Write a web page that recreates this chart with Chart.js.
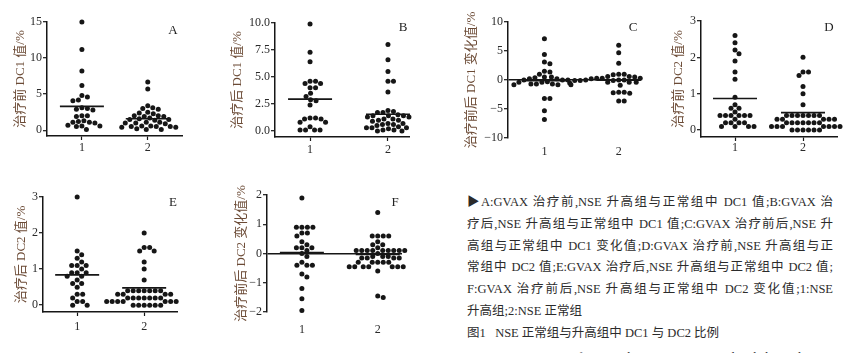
<!DOCTYPE html>
<html>
<head>
<meta charset="utf-8">
<script src="https://cdn.jsdelivr.net/npm/chart.js@4.4.1/dist/chart.umd.min.js"></script>
<style>
html, body { margin: 0; padding: 0; background: #fff; }
body { width: 848px; height: 353px; overflow: hidden; position: relative; }
canvas { position: absolute; }
#cap { position: absolute; left: 467px; top: 192px; width: 366px; font: 12.5px "Liberation Serif", "Noto Sans CJK SC", serif; color: #2b2b2b; line-height: 21.8px; }
#cap div { white-space: nowrap; }
#cap .j { white-space: normal; text-align: justify; text-align-last: justify; }
#cap .cut { margin-top: 2px; }
</style>
</head>
<body>
<div id="cap">
  <div class="j">&#9654;A:GVAX 治疗前,NSE 升高组与正常组中 DC1 值;B:GVAX 治</div>
  <div class="j">疗后,NSE 升高组与正常组中 DC1 值;C:GVAX 治疗前后,NSE 升</div>
  <div class="j">高组与正常组中 DC1 变化值;D:GVAX 治疗前,NSE 升高组与正</div>
  <div class="j">常组中 DC2 值;E:GVAX 治疗后,NSE 升高组与正常组中 DC2 值;</div>
  <div class="j">F:GVAX 治疗前后,NSE 升高组与正常组中 DC2 变化值;1:NSE</div>
  <div>升高组;2:NSE 正常组</div>
  <div>图1&nbsp;&nbsp;&nbsp;NSE 正常组与升高组中 DC1 与 DC2 比例</div>
  <div class="cut">Figure 1&nbsp;&nbsp;Proportion of DC1 and DC2 in NSE normal and elevated groups</div>
</div>
<script>
// Categories & tick labels //
var groups = ['1', '2'];
var ticksA = [0, 5, 10, 15];
var ticksB = [0, 2.5, 5, 7.5, 10];
var ticksC = [-10, -5, 0, 5, 10];
var ticksD = [0, 1, 2, 3];
var ticksE = [0, 1, 2, 3];
var ticksF = [-2, -1, 0, 1, 2];

// Values (group 1 = NSE high, group 2 = NSE normal) //
var a1 = [15.0, 11.2, 8.2, 6.2, 4.8, 4.6, 4.2, 4.1, 3.1, 3.0, 2.9, 2.8, 2.0, 2.0, 1.9, 1.3, 1.2, 1.1, 1.1, 1.0, 0.7, 0.6, 0.6, 0.5, 0.1];
var a2 = [6.7, 5.7, 3.4, 3.1, 3.0, 2.9, 2.5, 2.4, 2.3, 2.0, 2.0, 1.9, 1.9, 1.7, 1.6, 1.5, 1.5, 1.4, 1.1, 1.1, 1.0, 1.0, 0.9, 0.6, 0.6, 0.5, 0.5, 0.5, 0.4, 0.4, 0.2, 0.1, 0.1];
var aMean = [3.3, 1.6];

var b1 = [9.9, 7.3, 6.4, 4.6, 4.6, 4.4, 4.4, 4.0, 4.0, 3.5, 3.2, 2.9, 2.8, 2.4, 1.2, 1.2, 1.1, 1.1, 0.8, 0.8, 0.4, 0.1, 0.1, 0.1, 0.1];
var b2 = [8.0, 6.6, 5.5, 4.6, 4.6, 3.6, 1.9, 1.8, 1.7, 1.7, 1.5, 1.4, 1.4, 1.4, 1.3, 1.3, 1.1, 1.1, 1.0, 1.0, 0.9, 0.7, 0.7, 0.6, 0.6, 0.5, 0.4, 0.3, 0.3, 0.3, 0.2, 0.1, 0.1, 0.0, 0.0];
var bMean = [2.95, 1.55];

var c1 = [7.1, 4.4, 3.1, 2.8, 1.5, 1.4, 1.0, 0.5, 0.5, 0.4, 0.2, 0.2, 0.0, 0.0, 0.0, -0.3, -0.4, -0.4, -0.7, -0.7, -0.7, -0.8, -0.8, -0.8, -3.2, -3.2, -5.3, -6.8];
var c2 = [6.0, 4.7, 2.9, 1.0, 1.0, 0.9, 0.6, 0.6, 0.5, 0.3, 0.3, 0.3, 0.2, 0.2, 0.2, 0.0, 0.0, 0.0, -0.1, -0.1, -0.1, -0.1, -0.1, -0.1, -0.4, -0.4, -0.4, -0.5, -0.5, -0.9, -2.1, -2.1, -2.2, -2.3, -3.6, -3.6];
var cMean = [-0.1, -0.05];

var d1 = [2.6, 2.4, 2.2, 2.1, 1.9, 1.6, 1.4, 0.9, 0.7, 0.6, 0.6, 0.5, 0.4, 0.4, 0.4, 0.4, 0.4, 0.4, 0.3, 0.2, 0.2, 0.2, 0.2, 0.1, 0.1, 0.1, 0.1];
var d2 = [2.0, 1.6, 1.6, 1.5, 1.2, 1.0, 0.7, 0.4, 0.4, 0.4, 0.4, 0.4, 0.4, 0.4, 0.3, 0.3, 0.3, 0.3, 0.3, 0.2, 0.2, 0.2, 0.2, 0.2, 0.2, 0.2, 0.1, 0.1, 0.1, 0.1, 0.1, 0.1, 0.1, 0.0, 0.0, 0.0, 0.0, 0.0, 0.0];
var dMean = [0.87, 0.48];

var e1 = [3.0, 1.5, 1.4, 1.3, 1.2, 1.1, 1.1, 1.1, 1.0, 0.9, 0.9, 0.9, 0.8, 0.8, 0.7, 0.6, 0.6, 0.5, 0.3, 0.3, 0.2, 0.1, 0.1, 0.0, 0.0];
var e2 = [2.0, 1.6, 1.6, 1.5, 1.5, 1.2, 1.0, 0.7, 0.4, 0.4, 0.4, 0.4, 0.4, 0.4, 0.4, 0.3, 0.3, 0.3, 0.3, 0.2, 0.2, 0.2, 0.2, 0.2, 0.2, 0.2, 0.1, 0.1, 0.1, 0.1, 0.1, 0.1, 0.1, 0.1, 0.0, 0.0, 0.0, 0.0, 0.0, 0.0];
var eMean = [0.84, 0.48];

var f1 = [1.9, 0.9, 0.9, 0.9, 0.9, 0.7, 0.7, 0.6, 0.4, 0.3, 0.2, 0.2, 0.2, 0.1, 0.0, -0.1, -0.3, -0.4, -0.4, -0.4, -0.7, -0.8, -1.2, -1.55, -1.95];
var f2 = [1.4, 0.6, 0.6, 0.6, 0.6, 0.4, 0.3, 0.3, 0.2, 0.1, 0.1, 0.1, 0.1, 0.1, 0.1, 0.1, 0.1, 0.1, 0.0, -0.1, -0.1, -0.1, -0.15, -0.15, -0.15, -0.15, -0.3, -0.3, -0.3, -0.3, -0.3, -0.45, -0.45, -0.45, -0.45, -0.45, -0.45, -0.45, -0.6, -1.45, -1.5];
var fMean = [0.03, -0.03];

// Layout of each small panel (canvas box + plot area, page pixels) //
var panels = [
  {id: 'A', box: [0, 0, 190, 165], area: [47, 22, 182, 136], xr: [0.47, 2.52], yr: [-0.8, 15], ticks: ticksA, dec: 0, title: '治疗前 DC1 值/%', tpad: 13, xpad: 1, g1: a1, g2: a2, mean: aMean, zero: false, letter: [9, 9]},
  {id: 'B', box: [215, 0, 200, 165], area: [275, 23, 409, 137], xr: [0.55, 2.27], yr: [-0.56, 10], ticks: ticksB, dec: 1, title: '治疗后 DC1 值/%', tpad: 15, xpad: 2, g1: b1, g2: b2, mean: bMean, zero: false, letter: [6, 5]},
  {id: 'C', box: [430, 0, 218, 165], area: [508, 22, 641, 138], xr: [0.51, 2.3], yr: [-10, 10], ticks: ticksC, dec: 0, title: '治疗前后 DC1 变化值/%', tpad: 34, xpad: 3, g1: c1, g2: c2, mean: cMean, zero: true, letter: [8, 6]},
  {id: 'D', box: [648, 0, 200, 165], area: [701, 21, 837, 137], xr: [0.5, 2.5], yr: [-0.19, 3], ticks: ticksD, dec: 0, title: '治疗前 DC2 值/%', tpad: 23, xpad: 0, g1: d1, g2: d2, mean: dMean, zero: false, letter: [8, 7]},
  {id: 'E', box: [0, 178, 185, 165], area: [43, 197, 177, 312], xr: [0.49, 2.49], yr: [-0.19, 3], ticks: ticksE, dec: 0, title: '治疗后 DC2 值/%', tpad: 14, xpad: 4, g1: e1, g2: e2, mean: eMean, zero: false, letter: [4, 6]},
  {id: 'F', box: [200, 178, 210, 165], area: [267, 195, 402, 312], xr: [0.54, 2.32], yr: [-2, 2], ticks: ticksF, dec: 0, title: '治疗前后 DC2 变化值/%', tpad: 34, xpad: 7, g1: f1, g2: f2, mean: fMean, zero: true, letter: [7, 8]}
];

var INK = '#161616';
var SERIF = '"Liberation Serif", "Noto Sans CJK SC", serif';
var XH = 22;
var GAP = 5.4;

// Panel letter in the top-right corner //
var letterPlugin = {
  id: 'letter',
  afterDraw: function(chart, args, opts) {
    var ctx = chart.ctx, ca = chart.chartArea;
    ctx.save();
    ctx.font = '13px ' + SERIF;
    ctx.fillStyle = '#222';
    ctx.textAlign = 'center';
    ctx.textBaseline = 'middle';
    ctx.fillText(opts.text, ca.right - opts.dx, ca.top + opts.dy);
    ctx.restore();
  }
};

// Spread dots sideways so they don't overlap (scatter dot plot) //
function swarm(chart, vals, cat) {
  var xs = chart.scales.x, ys = chart.scales.y;
  var cx = xs.getPixelForValue(cat);
  var placed = [];
  vals.slice().sort(function(a, b) { return b - a; }).forEach(function(v) {
    var py = ys.getPixelForValue(v);
    for (var k = 0; k < 400; k++) {
      var px = cx + Math.ceil(k / 2) * 0.5 * (k % 2 ? 1 : -1);
      var hit = placed.some(function(q) { return Math.hypot(q.px - px, q.py - py) < GAP; });
      if (!hit) { placed.push({px: px, py: py, v: v}); break; }
    }
  });
  return placed.map(function(q) { return {x: xs.getValueForPixel(q.px), y: q.v}; });
}

function meanLine(chart, cat, v) {
  var xs = chart.scales.x, cx = xs.getPixelForValue(cat);
  return [{x: xs.getValueForPixel(cx - 22), y: v}, {x: xs.getValueForPixel(cx + 22), y: v}];
}

panels.forEach(function(p) {
  var cv = document.createElement('canvas');
  cv.width = p.box[2];
  cv.height = p.box[3];
  cv.style.left = p.box[0] + 'px';
  cv.style.top = p.box[1] + 'px';
  document.body.appendChild(cv);

  var yW = p.area[0] - p.box[0];
  var pad = {
    left: 0,
    top: p.area[1] - p.box[1],
    right: p.box[0] + p.box[2] - p.area[2],
    bottom: p.box[1] + p.box[3] - p.area[3] - XH
  };
  var dot = {pointRadius: 2.5, pointBackgroundColor: INK, pointBorderWidth: 0, showLine: false, clip: false};
  var bar = {showLine: true, borderColor: INK, borderWidth: 1.6, pointRadius: 0, clip: false};

  var chart = new Chart(cv, {
    type: 'scatter',
    data: {
      datasets: [
        Object.assign({data: p.g1.map(function(v) { return {x: 1, y: v}; })}, dot),
        Object.assign({data: p.g2.map(function(v) { return {x: 2, y: v}; })}, dot),
        Object.assign({data: [{x: 0.8, y: p.mean[0]}, {x: 1.2, y: p.mean[0]}]}, bar),
        Object.assign({data: [{x: 1.8, y: p.mean[1]}, {x: 2.2, y: p.mean[1]}]}, bar)
      ]
    },
    options: {
      responsive: false,
      animation: false,
      layout: {padding: pad},
      plugins: {
        legend: {display: false},
        tooltip: {enabled: false},
        letter: {text: p.id, dx: p.letter[0], dy: p.letter[1]}
      },
      scales: {
        x: {
          type: 'linear',
          min: p.xr[0],
          max: p.xr[1],
          afterBuildTicks: function(s) { s.ticks = groups.map(function(g, i) { return {value: i + 1}; }); },
          afterFit: function(s) { s.height = XH; },
          ticks: {
            color: '#2a2a2a',
            font: {family: SERIF, size: 12},
            padding: p.xpad,
            callback: function(v) { return groups[Math.round(v) - 1]; }
          },
          border: {display: !p.zero, color: INK, width: 1.5},
          grid: {display: !p.zero, drawOnChartArea: false, tickLength: 4, tickColor: INK, tickWidth: 1.2}
        },
        y: {
          min: p.yr[0],
          max: p.yr[1],
          afterBuildTicks: function(s) { s.ticks = p.ticks.map(function(v) { return {value: v}; }); },
          afterFit: function(s) { s.width = yW; },
          ticks: {
            color: '#2a2a2a',
            font: {family: SERIF, size: 12},
            padding: 1,
            callback: function(v) { return v.toFixed(p.dec).replace('-', '\u2212'); }
          },
          border: {color: INK, width: 1.5},
          grid: {
            drawOnChartArea: p.zero,
            color: function(c) { return c.tick && c.tick.value === 0 ? INK : 'rgba(0,0,0,0)'; },
            lineWidth: 1.4,
            tickLength: 4,
            tickColor: INK,
            tickWidth: 1.2
          },
          title: {
            display: true,
            text: p.title,
            color: '#6b4a35',
            font: {family: SERIF, size: 13},
            padding: {top: p.tpad, bottom: 0}
          }
        }
      }
    },
    plugins: [letterPlugin]
  });

  chart.data.datasets[0].data = swarm(chart, p.g1, 1);
  chart.data.datasets[1].data = swarm(chart, p.g2, 2);
  chart.data.datasets[2].data = meanLine(chart, 1, p.mean[0]);
  chart.data.datasets[3].data = meanLine(chart, 2, p.mean[1]);
  chart.update();
});
</script>
</body>
</html>
